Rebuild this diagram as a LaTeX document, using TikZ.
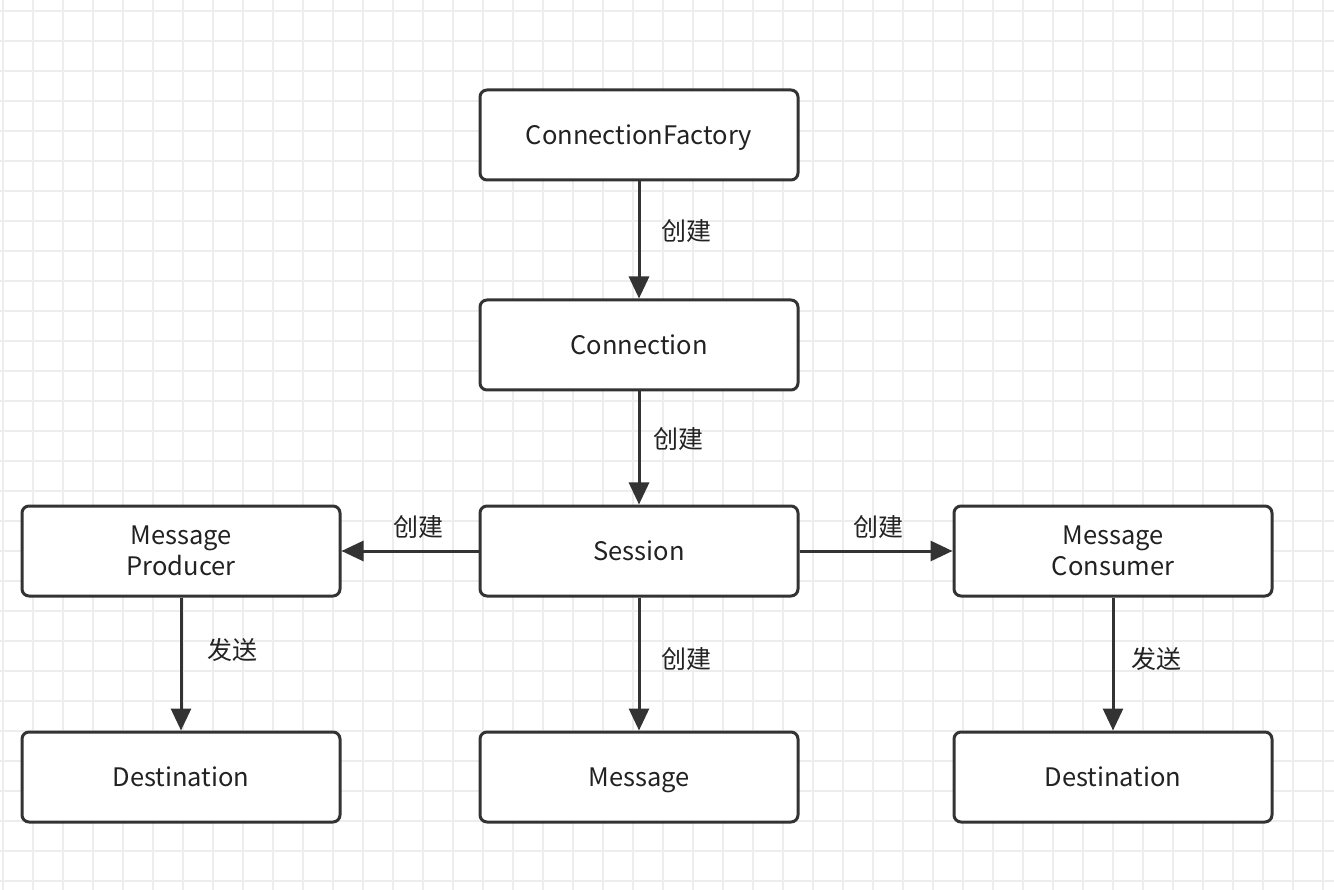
\documentclass[tikz,border=0pt]{standalone}
\usepackage{fontspec}
\setmainfont{Noto Sans CJK SC}
\usetikzlibrary{arrows.meta}
\definecolor{gridc}{HTML}{EDEDED}
\definecolor{edge}{HTML}{333333}
\definecolor{txt}{HTML}{222222}
\tikzset{
  box/.style={draw=edge, line width=3pt, rounded corners=7pt, fill=white,
    minimum width=318pt, minimum height=90pt, inner sep=0pt, align=center,
    font=\fontsize{25.5}{31}\selectfont, text=txt},
  conn/.style={draw=edge, line width=3pt, -{Triangle[length=22pt,width=20pt]}},
  lbl/.style={font=\fontsize{25}{28}\selectfont, text=txt, inner sep=0pt}
}
\begin{document}
\begin{tikzpicture}[x=1pt,y=-1pt]
\useasboundingbox (0,0) rectangle (1334,890);
\fill[white] (0,0) rectangle (1334,890);
\foreach \i in {0,...,44} {\draw[gridc, line width=1.5pt] (3+30*\i,0) -- (3+30*\i,890);}
\foreach \j in {0,...,29} {\draw[gridc, line width=1.5pt] (0,11+30*\j) -- (1334,11+30*\j);}

\node[box, text depth=0pt] (cf) at (639,135) {ConnectionFactory};
\node[box] (con) at (639,345) {Connection};
\node[box] (ses) at (639,551) {Session};
\node[box] (prod) at (181,551) {Message\\Producer};
\node[box] (cons) at (1113,551) {Message\\Consumer};
\node[box] (dest1) at (181,777) {Destination};
\node[box, text depth=0pt] (msg) at (639,777) {Message};
\node[box] (dest2) at (1113,777) {Destination};

\draw[conn] (cf) -- (con);
\draw[conn] (con) -- (ses);
\draw[conn] (ses) -- (prod);
\draw[conn] (ses) -- (cons);
\draw[conn] (ses) -- (msg);
\draw[conn] (prod) -- (dest1);
\draw[conn] (cons) -- (dest2);

\node[lbl] (l1) at (686,231) {创建};
\node[lbl] (l2) at (678,439) {创建};
\node[lbl] (l3) at (418,527) {创建};
\node[lbl] (l4) at (878,527) {创建};
\node[lbl] (l5) at (686,659) {创建};
\node[lbl] (l6) at (232,650) {发送};
\node[lbl] (l7) at (1156,659) {发送};
\end{tikzpicture}
\end{document}
